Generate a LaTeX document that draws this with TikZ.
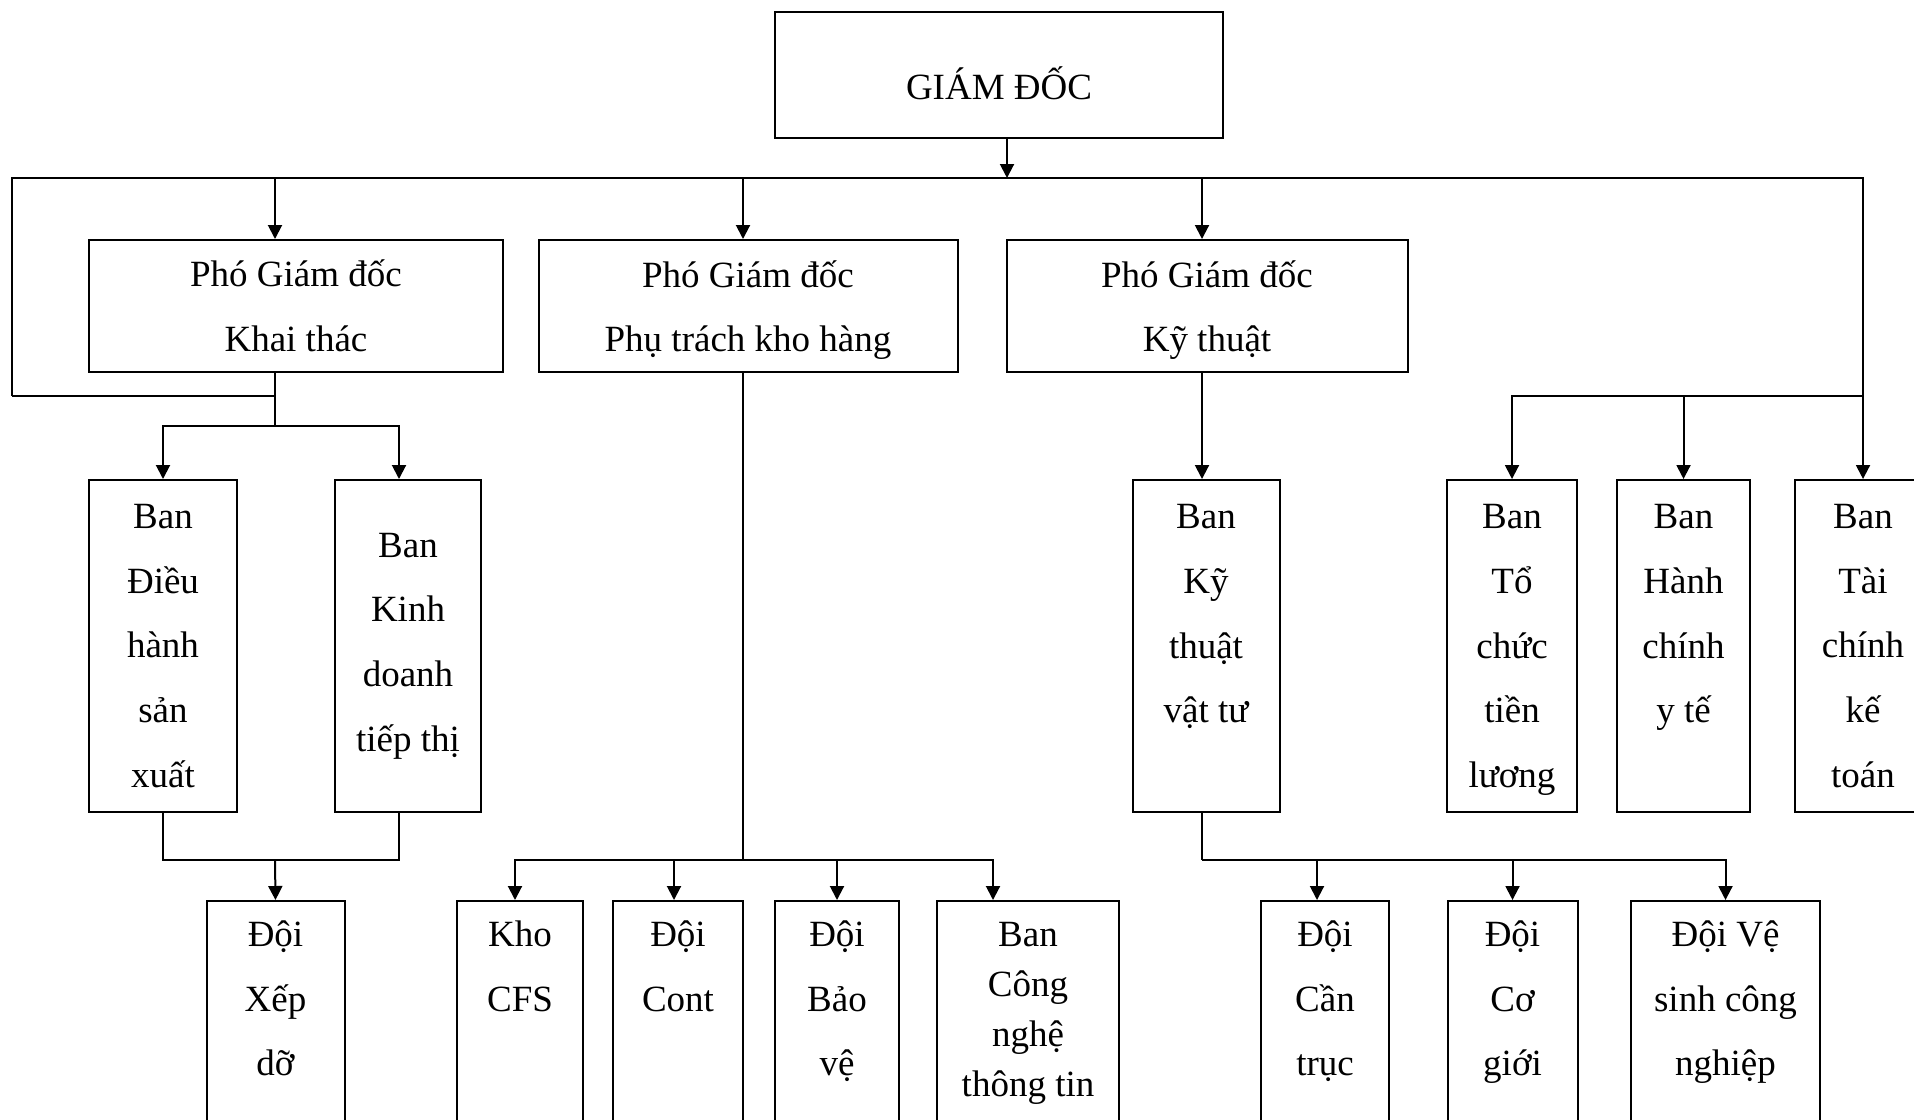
\documentclass[tikz,border=0pt]{standalone}
\usepackage{fontspec}
\setmainfont{Liberation Serif}
\usetikzlibrary{arrows.meta}

\begin{document}
\begin{tikzpicture}[x=0.5pt,y=-0.5pt,->,>={Triangle[length=7pt,width=7pt]},line width=1pt,
  font=\fontsize{18.5}{32.35}\selectfont]
\tikzstyle{box}=[draw,-,align=center,inner sep=2pt]
\tikzstyle{ban}=[box,minimum height=166pt]
\tikzstyle{doi}=[box,anchor=north,minimum height=162pt]

\useasboundingbox (0,0) rectangle (1914,1119);
\clip (0,0) rectangle (1914,1119);

% giam doc va cac pho giam doc
\node[box,minimum width=224pt,minimum height=62.75pt,text height=24.5pt] (GD) at (999,74.75) {GIÁM ĐỐC};
\node[box,minimum width=207pt,minimum height=66pt] (KT) at (296,306) {Phó Giám đốc\\Khai thác};
\node[box,minimum width=209.5pt,minimum height=66pt,text depth=0pt] (KH) at (748,306) {Phó Giám đốc\\Phụ trách kho hàng};
\node[box,minimum width=200.5pt,minimum height=66pt,text depth=0pt] (TE) at (1207,306) {Phó Giám đốc\\Kỹ thuật};

% cac ban
\node[ban,minimum width=74pt] (DH) at (163,646) {Ban\\Điều\\hành\\sản\\xuất};
\node[ban,minimum width=73pt] (KD) at (408,646) {Ban\\Kinh\\doanh\\tiếp thị};
\node[ban,minimum width=73.5pt] (VT) at (1206,646) {Ban\\Kỹ\\thuật\\vật tư\\~};
\node[ban,minimum width=65pt,text depth=0pt] (TL) at (1512,646) {Ban\\Tổ\\chức\\tiền\\lương};
\node[ban,minimum width=66.5pt] (HC) at (1683.5,646) {Ban\\Hành\\chính\\y tế\\~};
\node[ban,minimum width=68pt] (TC) at (1863,646) {Ban\\Tài\\chính\\kế\\toán};

% cac doi
\node[doi,minimum width=69pt] (XD) at (275.5,900) {Đội\\Xếp\\dỡ\\~\\~};
\node[doi,minimum width=63pt] (CFS) at (520,900) {Kho\\CFS\\~\\~\\~};
\node[doi,minimum width=65pt] (CT) at (678,900) {Đội\\Cont\\~\\~\\~};
\node[doi,minimum width=62pt] (BV) at (837,900) {Đội\\Bảo\\vệ\\~\\~};
\node[doi,minimum width=91pt,minimum height=158pt,font=\fontsize{18.5}{25}\selectfont] (IT) at (1028,900) {Ban\\Công\\nghệ\\thông tin\\~\\~};
\node[doi,minimum width=64pt] (CTR) at (1325,900) {Đội\\Cần\\trục\\~\\~};
\node[doi,minimum width=65pt] (CG) at (1512.5,900) {Đội\\Cơ\\giới\\~\\~};
\node[doi,minimum width=94.5pt] (VS) at (1725.5,900) {Đội Vệ\\sinh công\\nghiệp\\~\\~};

\coordinate (bus) at (1007,178);
\coordinate (loop) at (12,396);
\coordinate (sKT) at (275,426);
\coordinate (sKD) at (399,0);
\coordinate (sKH) at (743,860);
\coordinate (sTE) at (1202,860);
\coordinate (jXD) at (275,860);
\coordinate (sCFS) at (515,0);
\coordinate (sCT) at (674,0);
\coordinate (sIT) at (993,0);
\coordinate (sCTR) at (1317,0);

\draw (GD.south -| bus) -- (bus);
\draw[-] (loop -| sKT) -- (loop);
\draw (loop) |- (TC.north |- bus) -- (TC.north);
\draw (bus -| sKT) -- (KT.north -| sKT);
\draw (bus -| sKH) -- (KH.north -| sKH);
\draw (bus -| sTE) -- (TE.north -| sTE);

\draw[-] (KT.south -| sKT) -- (sKT);
\draw (sKT) -| (DH.north);
\draw (sKT) -| (KD.north -| sKD);
\draw[-] (DH.south) |- (jXD) -| (KD.south -| sKD);
\draw (jXD) -- (XD.north);

\draw[-] (KH.south -| sKH) -- (sKH);
\draw (sKH) -| (CFS.north -| sCFS);
\draw (sKH -| sCT) -- (CT.north -| sCT);
\draw (sKH -| BV.north) -- (BV.north);
\draw (sKH) -| (IT.north -| sIT);

\draw (TE.south -| sTE) -- (VT.north -| sTE);
\draw[-] (VT.south -| sTE) -- (sTE);
\draw (sTE -| sCTR) -- (CTR.north -| sCTR);
\draw (sTE -| CG.north) -- (CG.north);
\draw (sTE) -| (VS.north);

\draw (loop -| TC.north) -| (TL.north);
\draw (loop -| HC.north) -- (HC.north);
\end{tikzpicture}
\end{document}
